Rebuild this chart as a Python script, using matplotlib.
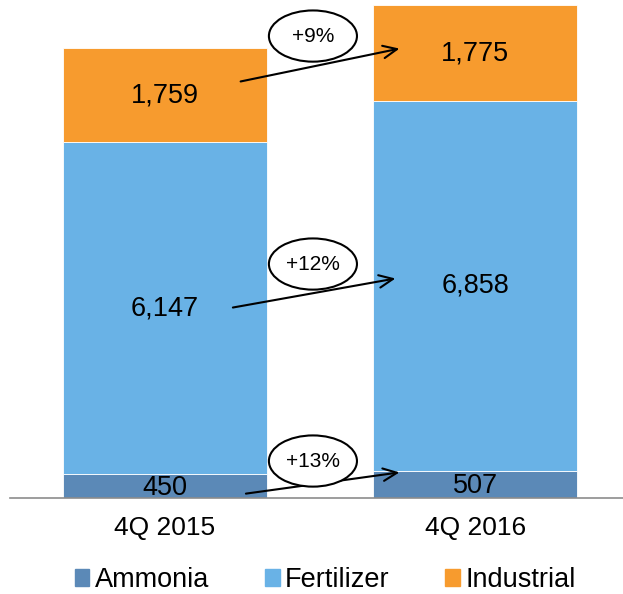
import matplotlib.pyplot as plt
from matplotlib.patches import Ellipse, Patch

plt.rcParams['font.family'] = ['Liberation Sans', 'DejaVu Sans']

quarters = ['4Q 2015', '4Q 2016']
ammonia = [450, 507]
fertilizer = [6147, 6858]
industrial = [1759, 1775]
changes = ['+13%', '+12%', '+9%']

c_amm = '#5b89b7'
c_fert = '#69b2e6'
c_ind = '#f79b2e'

fig = plt.figure(figsize=(6.23, 5.94), dpi=100)
ax = fig.add_axes([10 / 623, 96 / 594, 613 / 623, 498 / 594])

x = [0, 1]
w = 0.66
bot2 = [a + f for a, f in zip(ammonia, fertilizer)]
ax.bar(x, ammonia, w, color=c_amm, edgecolor='white', linewidth=0.6)
ax.bar(x, fertilizer, w, bottom=ammonia, color=c_fert, edgecolor='white', linewidth=0.6)
ax.bar(x, industrial, w, bottom=bot2, color=c_ind, edgecolor='white', linewidth=0.6)

ax.set_xlim(-0.5, 1.477)
ax.set_ylim(0, 9240)

# segment labels
segs = [(ammonia, [0, 0]), (fertilizer, ammonia), (industrial, bot2)]
for vals, bots in segs:
    for i in x:
        mid = bots[i] + vals[i] / 2
        if vals is ammonia:
            mid -= 35
        ax.text(i, mid, f'{vals[i]:,}', ha='center', va='center', fontsize=19.5)

# growth arrows with ellipses
arrows = [
    ((0.252, 74), (0.765, 482), 686),
    ((0.21, 3525), (0.752, 4082), 4341),
    ((0.235, 7718), (0.765, 8349), 8571),
]
for (start, end, ey), lab in zip(arrows, changes):
    ax.annotate('', xy=end, xytext=start,
                arrowprops=dict(arrowstyle='->,head_length=1.0,head_width=0.45',
                                color='black', lw=1.5))
    ax.add_patch(Ellipse((0.477, ey), 0.284, 950, facecolor='white',
                         edgecolor='black', lw=1.5, zorder=3))
    ax.text(0.477, ey, lab, ha='center', va='center', fontsize=15, zorder=4)

for s in ['top', 'right', 'left']:
    ax.spines[s].set_visible(False)
ax.spines['bottom'].set_color('#8c8c8c')
ax.spines['bottom'].set_linewidth(1.2)
ax.set_yticks([])
ax.set_xticks(x)
ax.set_xticklabels(quarters, fontsize=19)
ax.tick_params(axis='x', length=0, pad=13)

handles = [Patch(color=c_amm), Patch(color=c_fert), Patch(color=c_ind)]
fig.legend(handles, ['Ammonia', 'Fertilizer', 'Industrial'], loc='center',
           bbox_to_anchor=(0.522, 14 / 594), ncol=3, frameon=False, fontsize=19.5,
           handlelength=0.55, handleheight=0.55, handletextpad=0.2,
           columnspacing=2.05)

fig.savefig('out.png', dpi=100)
